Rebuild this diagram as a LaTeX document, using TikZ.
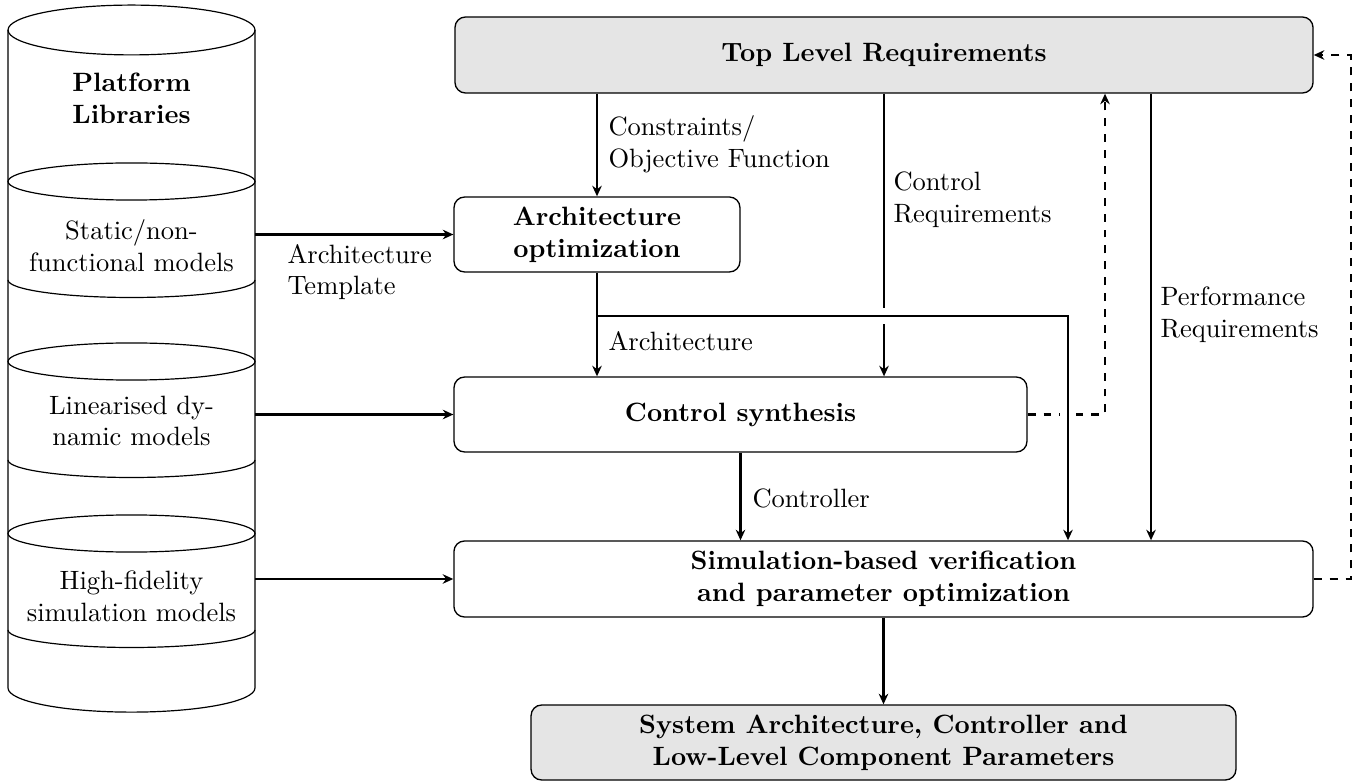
\documentclass[tikz,border=0pt]{standalone}
\usetikzlibrary{arrows.meta,calc}
\begin{document}
\begin{tikzpicture}[x=0.37736pt,y=-0.37736pt,
 box/.style={draw, line width=0.5pt, rounded corners=4pt, align=center, font=\bfseries, inner sep=2pt},
 grey/.style={fill=gray!20},
 arr/.style={thick, -{Stealth[length=4pt,width=3.6pt,inset=1.3pt]}},
 lbl/.style={anchor=west, align=left, inner sep=0pt},
 cyl/.style={line width=0.45pt},
 libtxt/.style={align=center, inner sep=0pt}]
\useasboundingbox (0,0) rectangle (1369,783);

% ---- library cylinder ----
\draw[cyl] (131.5,30) ellipse [x radius=46.6pt, y radius=9.4pt];
\draw[cyl] (8,30) -- (8,688) arc[start angle=180,end angle=360,x radius=46.6pt,y radius=9.1pt] -- (255,30);
\draw[cyl] (131.5,181.5) ellipse [x radius=46.6pt, y radius=7pt];
\draw[cyl] (8,280) arc[start angle=180,end angle=360,x radius=46.6pt,y radius=6.6pt];
\draw[cyl] (131.5,361.5) ellipse [x radius=46.6pt, y radius=7pt];
\draw[cyl] (8,460) arc[start angle=180,end angle=360,x radius=46.6pt,y radius=6.6pt];
\draw[cyl] (131.5,533.5) ellipse [x radius=46.6pt, y radius=7pt];
\draw[cyl] (8,630) arc[start angle=180,end angle=360,x radius=46.6pt,y radius=6.6pt];

\node[libtxt, font=\bfseries] (plib) at (131.5,98) {Platform\\Libraries};
\node[libtxt] (lib1) at (131.5,246) {Static/non-\\functional models};
\node[libtxt] (lib2) at (131.5,421) {Linearised dy-\\namic models};
\node[libtxt] (lib3) at (131.5,596) {High-fidelity\\simulation models};
\coordinate (cylR) at (255,0);

% ---- boxes ----
\node[box, grey, minimum width=323.8pt, minimum height=28.7pt] (top) at (884,55) {Top Level Requirements};
\node[box, minimum width=107.9pt, minimum height=28.3pt] (arch) at (597,234.5) {Architecture\\optimization};
\node[box, minimum width=216.2pt, minimum height=28.3pt] (ctrl) at (740.5,414.5) {Control synthesis};
\node[box, minimum width=324.2pt, minimum height=28.7pt] (sim) at (883.5,579) {Simulation-based verification\\and parameter optimization};
\node[box, grey, minimum width=266pt, minimum height=28.3pt] (out) at (883.5,742.5) {System Architecture, Controller and\\Low-Level Component Parameters};

% ---- helper coordinates ----
\coordinate (hy) at (0,316);
\coordinate (J) at (arch.south |- hy);
\coordinate (ax) at (1068,0);
\coordinate (px) at (1151,0);
\coordinate (fx) at (1105,0);

% ---- connectors ----
\draw[arr] (top.south -| arch.north) -- (arch.north);
\draw[arr] (top.south) -- (top.south |- ctrl.north);
\draw[arr] (top.south -| px) -- (sim.north -| px);
\draw[arr, dashed] (ctrl.east) -| (top.south -| fx);
\draw[arr, dashed] (sim.east) -- ++(37,0) |- (top.east);
\draw[arr, preaction={draw=white, line width=6pt, -, shorten >=4pt}] (J) -| (sim.north -| ax);
\draw[arr] (arch.south) -- (J) -- (J |- ctrl.north);
\draw[arr] (ctrl.south) -- (ctrl.south |- sim.north);
\draw[arr] (sim.south) -- (out.north);
\draw[arr] (arch.west -| cylR) -- (arch.west);
\draw[arr] (ctrl.west -| cylR) -- (ctrl.west);
\draw[arr] (sim.west -| cylR) -- (sim.west);

% ---- labels ----
\node[lbl] (l1) at (608,144) {Constraints/\\Objective Function};
\node[lbl] (l2) at (893,200) {Control\\Requirements};
\node[lbl] (l3) at (1160,315) {Performance\\Requirements};
\node[lbl] (l4) at (608,341) {Architecture};
\node[lbl] (l5) at (752,498) {Controller};
\node[lbl] (l6) at (287,272) {Architecture\\Template};
\end{tikzpicture}
\end{document}
